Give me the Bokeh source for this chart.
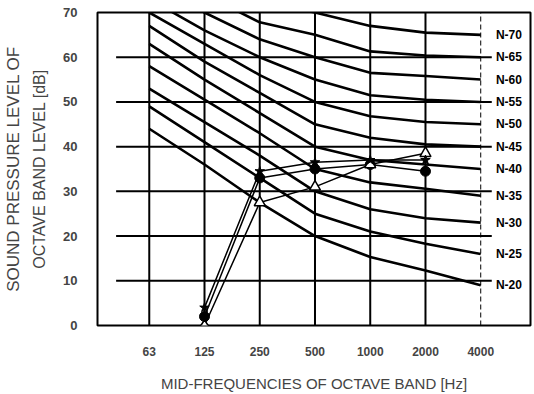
import numpy as np
from bokeh.plotting import figure
from bokeh.models import FixedTicker, LinearAxis, Range1d, ColumnDataSource
from bokeh.embed import file_html
from bokeh.resources import INLINE
from bokeh.core.properties import value

# ---- data ----
bands = ["63", "125", "250", "500", "1000", "2000", "4000"]
band_pos = [1, 2, 3, 4, 5, 6, 7]
y_ticks = [0, 10, 20, 30, 40, 50, 60, 70]

n_names = ["N-70", "N-65", "N-60", "N-55", "N-50", "N-45", "N-40", "N-35", "N-30", "N-25", "N-20"]
n70 = [86, 79, 72.5, 70, 67, 65.5, 65]
n65 = [81, 74, 67.8, 65, 61.3, 60.4, 60]
n60 = [77, 70, 64, 60, 56.5, 55.8, 55]
n55 = [73, 66, 60, 55, 51.5, 50.5, 50]
n50 = [70, 63, 56, 50, 46.8, 45.5, 45]
n45 = [67, 59, 52, 45, 42, 40.5, 40]
n40 = [63, 55, 47.5, 40, 37, 36, 35]
n35 = [58, 50.5, 43, 35, 32, 30.6, 29]
n30 = [53, 45.5, 38, 30, 26, 24, 23]
n25 = [49, 41, 33, 25, 21, 18.3, 16]
n20 = [44, 36, 27.5, 20, 15.3, 12.3, 9]
n_curves = [n70, n65, n60, n55, n50, n45, n40, n35, n30, n25, n20]

meas_pos = [2, 3, 4, 5, 6]
meas_circle = [2, 33, 35, 36, 34.5]
meas_triangle = [0, 27.5, 31, 36, 38.5]
meas_triangle_marker = ["diamond", "triangle", "triangle", "triangle", "triangle"]
meas_star = [4, 34.5, 36.5, 37, 37]

FONT = "Liberation Sans"

p = figure(width=534, height=394, output_backend="svg", toolbar_location=None,
           x_range=Range1d(0.063, 7.901), y_range=Range1d(0, 70),
           min_border_left=95, min_border_right=4, min_border_top=12, min_border_bottom=69)
p.outline_line_color = "black"
p.outline_line_width = 2
p.xgrid.visible = False
p.ygrid.visible = False
p.background_fill_color = "white"
p.border_fill_color = "white"

# grid lines (vertical)
solid_pos = band_pos[:-1]
p.segment(x0=solid_pos, y0=[y_ticks[0]] * len(solid_pos), x1=solid_pos, y1=[y_ticks[-1]] * len(solid_pos),
          line_color="black", line_width=2)
p.segment(x0=[band_pos[-1]], y0=[y_ticks[0]], x1=[band_pos[-1]], y1=[y_ticks[-1]],
          line_color="black", line_width=1, line_dash="5 3")
# horizontal grid lines
hy = y_ticks[1:-1]
p.segment(x0=[0.4] * len(hy), y0=hy, x1=[7.2] * len(hy), y1=hy, line_color="black", line_width=2)

# N curves
for c in n_curves:
    p.line(band_pos, c, line_color="black", line_width=2.6)

# labels
p.text(x=[7.51] * len(n_names), y=[c[-1] for c in n_curves], text=n_names,
       text_align="center", text_baseline="middle", text_font=value(FONT),
       text_font_style="bold", text_font_size="12px", text_color="black")

# measurements
p.line(meas_pos, meas_circle, line_color="black", line_width=1.5)
p.line(meas_pos, meas_triangle, line_color="black", line_width=1.5)
p.line(meas_pos, meas_star, line_color="black", line_width=1.5)
p.scatter(meas_pos, meas_circle, marker="circle", size=10, fill_color="black", line_color="black")
src_t = ColumnDataSource(dict(x=meas_pos, y=meas_triangle, m=meas_triangle_marker))
p.scatter("x", "y", source=src_t, marker="m", size=11, fill_color="white", line_color="black", line_width=1.5)
p.scatter(meas_pos, meas_star, marker="star", size=10, fill_color="black", line_color="black")

# x axis
xa = p.xaxis[0]
xa.ticker = FixedTicker(ticks=band_pos)
xa.major_label_overrides = {pos: lab for pos, lab in zip(band_pos, bands)}
xa.axis_line_color = None
xa.major_tick_line_color = None
xa.minor_tick_line_color = None
xa.major_label_standoff = 15
xa.major_label_text_font = FONT
xa.major_label_text_font_style = "bold"
xa.major_label_text_font_size = "12px"
xa.axis_label = "MID-FREQUENCIES OF OCTAVE BAND [Hz]"
xa.axis_label_text_font = FONT
xa.axis_label_text_font_style = "normal"
xa.axis_label_text_font_size = "15px"
xa.axis_label_standoff = 16

# inner y axis
ya = p.yaxis[0]
ya.ticker = FixedTicker(ticks=y_ticks)
ya.axis_line_color = None
ya.major_tick_line_color = None
ya.minor_tick_line_color = None
ya.major_label_standoff = 14
ya.major_label_text_font = FONT
ya.major_label_text_font_style = "bold"
ya.major_label_text_font_size = "13px"
ya.axis_label = "OCTAVE BAND LEVEL [dB]"
ya.axis_label_text_font = FONT
ya.axis_label_text_font_style = "normal"
ya.axis_label_text_font_size = "16px"
ya.axis_label_standoff = 12

# outer y axis (first title line)
ya2 = LinearAxis(ticker=FixedTicker(ticks=[]), axis_line_color=None,
                 major_tick_line_color=None, minor_tick_line_color=None,
                 axis_label="SOUND PRESSURE LEVEL OF", axis_label_text_font=FONT,
                 axis_label_text_font_style="normal", axis_label_text_font_size="17px",
                 axis_label_standoff=6)
p.add_layout(ya2, "left")

open("out.html", "w").write(file_html(p, INLINE))
